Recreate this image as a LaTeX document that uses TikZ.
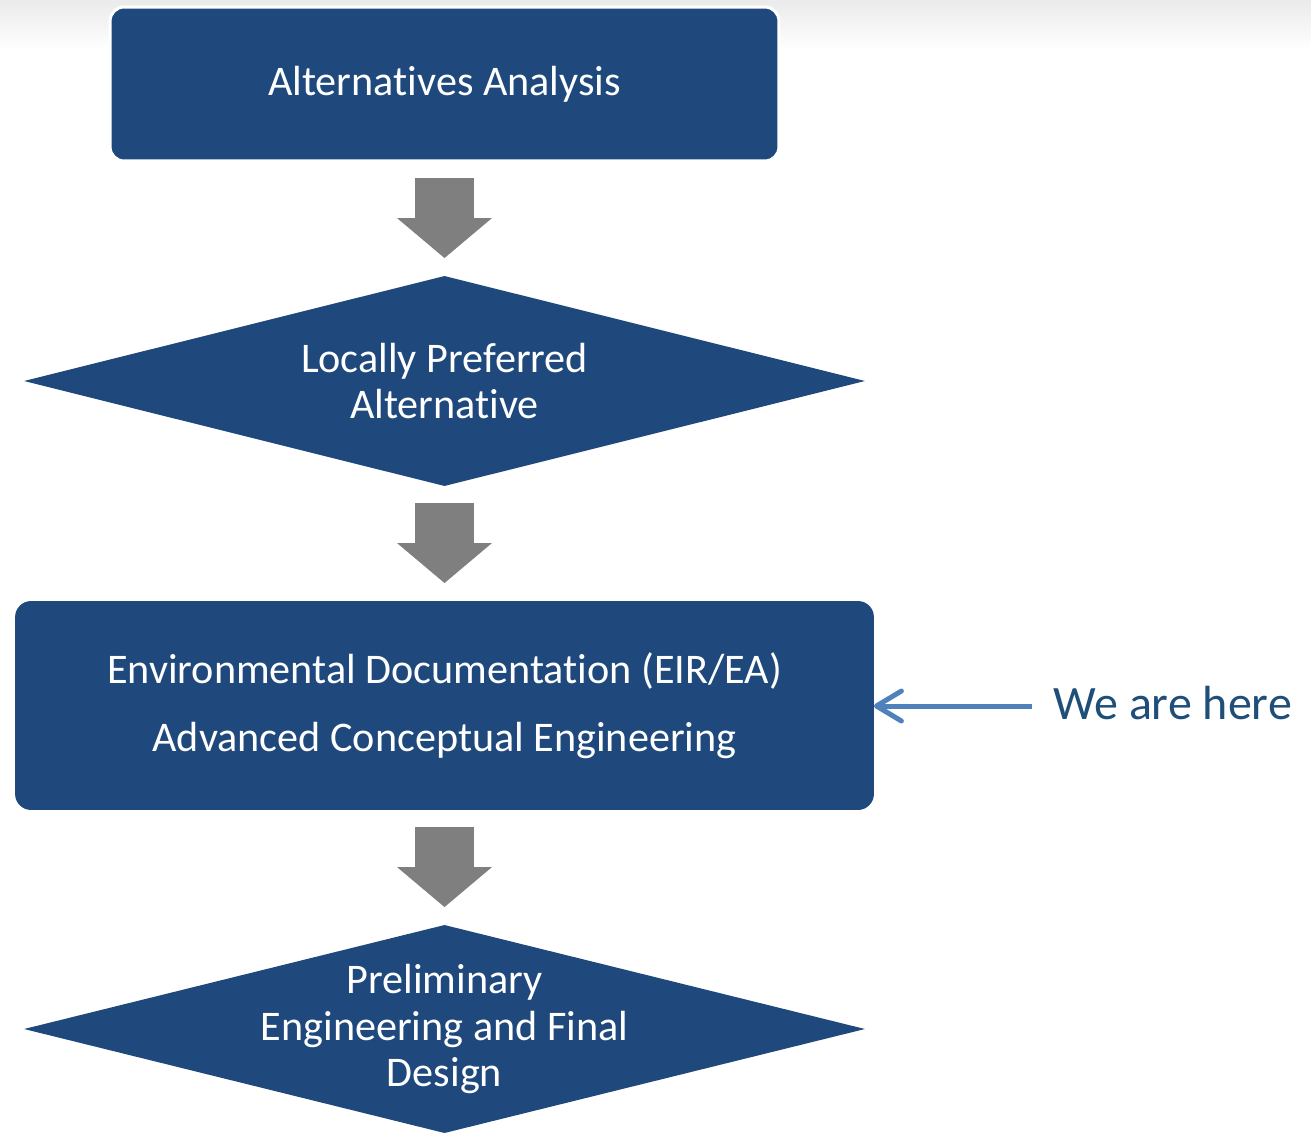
\documentclass[tikz,border=0pt]{standalone}
\usepackage{fontspec}
\setmainfont{Carlito}[Ligatures=NoCommon]
\usetikzlibrary{arrows.meta,positioning,shapes.geometric}
\definecolor{stepblue}{HTML}{1F497D}
\definecolor{stepgray}{HTML}{7F7F7F}
\definecolor{pointer}{HTML}{4F81BD}
\definecolor{heretext}{HTML}{1F4E79}
\tikzset{
  stagebox/.style={fill=stepblue,rounded corners=0.28cm,align=center,
    text=white,inner sep=0pt,outer sep=0pt,font=\fontsize{24}{26}\selectfont},
  gate/.style={fill=stepblue,diamond,aspect=4,inner sep=0pt,outer sep=0pt},
  gatetext/.style={align=center,text=white,inner sep=0pt,
    font=\fontsize{24}{26.5}\selectfont},
  blockarrow/.style={draw=stepgray,line width=1.18cm,
    -{Triangle[width=1.9cm,length=0.8cm,line width=0pt]}},
  herearrow/.style={draw=pointer,line width=0.1cm,
    -{Straight Barb[length=0.5cm,width=0.6cm,round]}},
  herelabel/.style={text=heretext,inner sep=0pt,font=\fontsize{27.3}{31}\selectfont}
}
\begin{document}
\begin{tikzpicture}[x=0.02cm,y=-0.02cm]
  \useasboundingbox (0,0) rectangle (1311,1132);
  % faint band along the top edge
  \shade[top color=black!8,bottom color=white] (0,0) rectangle (1311,50);
  % stages
  \node[stagebox,draw=white,line width=0.06cm,minimum width=13.38cm,minimum height=3.08cm]
    (aa) at (444.5,84) {Alternatives Analysis};
  \node[gate,minimum width=16.82cm,minimum height=4.2cm] (lpa) at (444.5,381) {};
  \node[gatetext] (lpatext) at (lpa.center) {Locally Preferred\\Alternative};
  \node[stagebox,rounded corners=0.32cm,minimum width=17.18cm,minimum height=4.18cm]
    (ecd) at (444.5,705.5) {Environmental Documentation (EIR/EA)\\[13pt]Advanced Conceptual Engineering};
  \node[gate,minimum width=16.82cm,minimum height=4.16cm] (pefd) at (444.5,1029) {};
  \node[gatetext] (pefdtext) at (pefd.center) {Preliminary\\Engineering and Final\\Design};
  % block arrows between stages
  \draw[blockarrow] ([yshift=-0.34cm]aa.south) -- ([yshift=0.36cm]lpa.north);
  \draw[blockarrow] ([yshift=-0.34cm]lpa.south) -- ([yshift=0.36cm]ecd.north);
  \draw[blockarrow] ([yshift=-0.34cm]ecd.south) -- ([yshift=0.36cm]pefd.north);
  % pointer
  \node[herelabel,anchor=west] (here) at (1053,703) {We are here};
  \coordinate (hstart) at (1032,706);
  \draw[herearrow] (hstart) -- (ecd.east |- hstart);
\end{tikzpicture}
\end{document}
